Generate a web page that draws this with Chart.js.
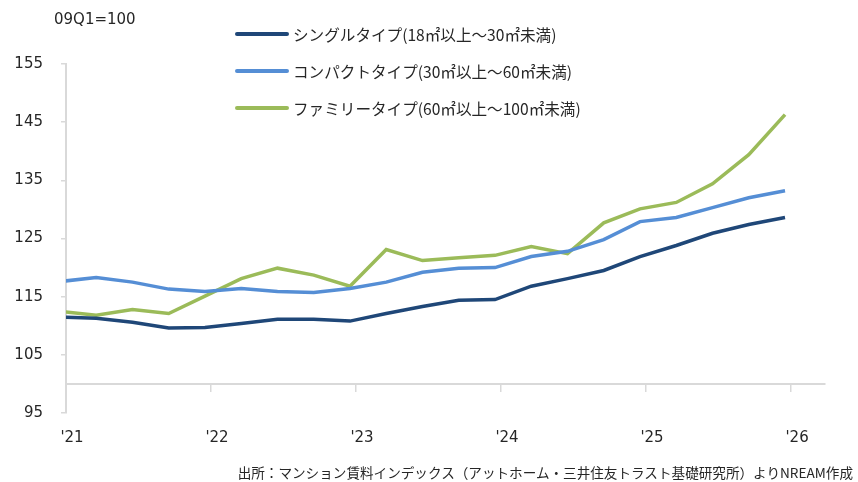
<!DOCTYPE html>
<html lang="ja">
<head>
<meta charset="utf-8">
<script src="https://cdn.jsdelivr.net/npm/chart.js@4.4.1/dist/chart.umd.min.js"></script>
<style>
  html, body { margin: 0; padding: 0; background: #fff; }
  #wrap { position: relative; width: 858px; height: 482px; }
  #unit { position: absolute; left: 54px; top: 10px; font: 15px "DejaVu Sans", sans-serif; color: #262626; }
  #legend { position: absolute; left: 235px; top: 16px; font: 15.6px "Noto Sans CJK JP", sans-serif; color: #262626; }
  .item { display: flex; align-items: center; height: 36.7px; }
  .swatch { width: 54px; height: 4px; border-radius: 2px; margin-right: 4px; }
  #source { position: absolute; right: 5px; top: 462px; font: 13.6px "Noto Sans CJK JP", sans-serif; color: #262626; white-space: nowrap; }
</style>
</head>
<body>
<div id="wrap">
  <canvas id="chart" width="858" height="482"></canvas>
  <div id="unit">09Q1=100</div>
  <div id="legend"></div>
  <div id="source">出所：マンション賃料インデックス（アットホーム・三井住友トラスト基礎研究所）よりNREAM作成</div>
</div>
<script>
// Data (quarterly, year-month of each observation)
const periods = ['2020-12', '2021-03', '2021-06', '2021-09', '2021-12', '2022-03', '2022-06', '2022-09', '2022-12',
                 '2023-03', '2023-06', '2023-09', '2023-12', '2024-03', '2024-06', '2024-09', '2024-12',
                 '2025-03', '2025-06', '2025-09', '2025-12'];
const singleType  = [111.5, 111.3, 110.6, 109.6, 109.7, 110.4, 111.1, 111.1, 110.8, 112.1, 113.3,
                     114.4, 114.5, 116.8, 118.1, 119.5, 121.9, 123.8, 125.9, 127.4, 128.6];
const compactType = [117.6, 118.3, 117.5, 116.3, 115.9, 116.4, 115.9, 115.7, 116.4, 117.5, 119.2,
                     119.9, 120.0, 121.9, 122.8, 124.8, 127.9, 128.6, 130.3, 132.0, 133.2];
const familyType  = [112.5, 111.8, 112.8, 112.1, 115.1, 118.1, 119.9, 118.7, 116.8, 123.1, 121.2,
                     121.7, 122.1, 123.6, 122.4, 127.7, 130.1, 131.2, 134.4, 139.4, 146.3];

const seriesNames = ['シングルタイプ(18㎡以上～30㎡未満)', 'コンパクトタイプ(30㎡以上～60㎡未満)', 'ファミリータイプ(60㎡以上～100㎡未満)'];
const seriesColors = ['#1F4778', '#558ED5', '#9BBB59'];

// Axis ticks
const yearTicks = [2021, 2022, 2023, 2024, 2025, 2026];
const yearLabels = ["'21", "'22", "'23", "'24", "'25", "'26"];
const yTicks = [95, 105, 115, 125, 135, 145, 155];

// Convert "YYYY-MM" into a decimal year (middle of the month)
function toYear(p) {
   const [y, m] = p.split('-').map(Number);
   return y + (m - 0.5) / 12;
}

function makeData(values) {
   return values.map((v, i) => ({ x: toYear(periods[i]), y: v }));
}

const allSeries = [singleType, compactType, familyType];

const datasets = allSeries.map((values, i) => ({
   label: seriesNames[i],
   data: makeData(values),
   borderColor: seriesColors[i],
   backgroundColor: seriesColors[i],
   borderWidth: 3.5,
   pointRadius: 0,
   tension: 0
}));

// HTML legend
const legendEl = document.getElementById('legend');
seriesNames.forEach((name, i) => {
   const row = document.createElement('div');
   row.className = 'item';
   const sw = document.createElement('span');
   sw.className = 'swatch';
   sw.style.background = seriesColors[i];
   const txt = document.createElement('span');
   txt.textContent = name;
   row.appendChild(sw);
   row.appendChild(txt);
   legendEl.appendChild(row);
});

const tickFont = { family: 'DejaVu Sans', size: 15 };
const axisGray = '#d9d9d9';

new Chart(document.getElementById('chart'), {
   type: 'line',
   data: { datasets },
   options: {
      responsive: false,
      animation: false,
      layout: { padding: { top: 64, right: 33, bottom: 69, left: 0 } },
      plugins: {
         legend: { display: false },
         tooltip: { enabled: false }
      },
      scales: {
         x: {
            type: 'linear',
            position: { y: 100 },
            min: 2021,
            max: 2026.234,
            afterBuildTicks: scale => { scale.ticks = yearTicks.map(v => ({ value: v })); },
            ticks: {
               font: tickFont,
               color: '#262626',
               padding: 38,
               labelOffset: 6,
               maxRotation: 0,
               callback: v => yearLabels[yearTicks.indexOf(v)]
            },
            grid: { drawOnChartArea: false, tickLength: 7, color: axisGray, lineWidth: 1.5 },
            border: { color: axisGray, width: 2 }
         },
         y: {
            min: 95,
            max: 155,
            afterBuildTicks: scale => { scale.ticks = yTicks.map(v => ({ value: v })); },
            afterFit: scale => { scale.width = 66; },
            ticks: { font: tickFont, color: '#262626', padding: 18 },
            grid: { drawOnChartArea: false, tickLength: 5, color: axisGray, lineWidth: 1.5 },
            border: { color: axisGray, width: 2 }
         }
      }
   }
});
</script>
</body>
</html>
